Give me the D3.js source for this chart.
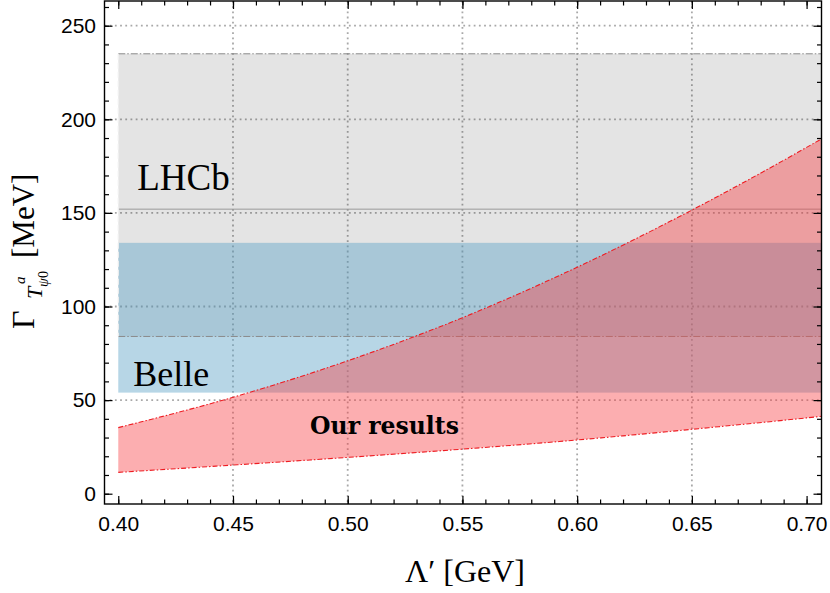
<!DOCTYPE html>
<html>
<head>
<meta charset="UTF-8">
<script src="https://d3js.org/d3.v7.min.js"></script>
<style>
  body { margin: 0; background: #fff; }
  svg { display: block; }
  .tick text { font-family: "Liberation Sans", Arial, sans-serif; font-size: 21px; fill: #000; }
  .tick line { stroke: #000; stroke-width: 1.2; }
  .serif { font-family: "Liberation Serif", "Times New Roman", serif; fill: #000; }
</style>
</head>
<body>
<svg width="830" height="593"></svg>
<script>
// red band ("Our results")
const lambda = [0.40, 0.45, 0.50, 0.55, 0.60, 0.65, 0.70, 0.71];
const lowerVals = [11.4, 15.3, 19.4, 23.8, 28.7, 34.4, 40.5, 41.8];
const upperVals = [35.3, 51.5, 71.0, 94.0, 121.0, 151.5, 185.0, 192.0];

// experimental bands: [low, central, high]
const lhcbBand = [84, 152, 235];
const belleBand = [54, 134];
const bandStart = 0.40;

const xMajor = [0.40, 0.45, 0.50, 0.55, 0.60, 0.65, 0.70];
const xGrid = [0.45, 0.50, 0.55, 0.60, 0.65];
const yMajor = [0, 50, 100, 150, 200, 250];
const yGrid = [50, 100, 150, 200, 250];

const svg = d3.select("svg");
const L = 104.5, R = 821.5, T = 1, B = 504;

const x = d3.scaleLinear().domain([0.394, 0.7065]).range([L, R]);
const y = d3.scaleLinear().domain([-5.5, 263.2]).range([B, T]);

svg.append("defs").append("clipPath").attr("id", "clip")
  .append("rect").attr("x", L).attr("y", T).attr("width", R - L).attr("height", B - T);

const plot = svg.append("g").attr("clip-path", "url(#clip)");

// grid
plot.selectAll(".gx").data(xGrid).join("line")
  .attr("x1", d => x(d)).attr("x2", d => x(d)).attr("y1", T).attr("y2", B)
  .attr("stroke", "#a8a8a8").attr("stroke-width", 1.8).attr("stroke-dasharray", "1.8,3.4");
plot.selectAll(".gy").data(yGrid).join("line")
  .attr("x1", L).attr("x2", R).attr("y1", d => y(d)).attr("y2", d => y(d))
  .attr("stroke", "#a8a8a8").attr("stroke-width", 1.8).attr("stroke-dasharray", "1.8,3.4");

// LHCb band
plot.append("rect")
  .attr("x", x(bandStart)).attr("width", R - x(bandStart))
  .attr("y", y(lhcbBand[2])).attr("height", y(lhcbBand[0]) - y(lhcbBand[2]))
  .attr("fill", "rgba(0,0,0,0.105)");

// Belle band
plot.append("rect")
  .attr("x", x(bandStart)).attr("width", R - x(bandStart))
  .attr("y", y(belleBand[1])).attr("height", y(belleBand[0]) - y(belleBand[1]))
  .attr("fill", "rgba(91,162,198,0.44)");

// band edges of LHCb
[lhcbBand[0], lhcbBand[2]].forEach(v => {
  plot.append("line")
    .attr("x1", x(bandStart)).attr("x2", R).attr("y1", y(v)).attr("y2", y(v))
    .attr("stroke", "#8a8a8a").attr("stroke-width", 1).attr("stroke-dasharray", "7,2,1.5,2");
});
plot.append("line")
  .attr("x1", x(bandStart)).attr("x2", R).attr("y1", y(lhcbBand[1])).attr("y2", y(lhcbBand[1]))
  .attr("stroke", "#999").attr("stroke-width", 1);
plot.append("line")
  .attr("x1", x(bandStart)).attr("x2", x(bandStart)).attr("y1", y(lhcbBand[2])).attr("y2", y(lhcbBand[0]))
  .attr("stroke", "#f0f0f0").attr("stroke-width", 1.2).attr("stroke-dasharray", "6,3");

// our results
const pts = lambda.map((l, i) => ({l, lo: lowerVals[i], hi: upperVals[i]}));
const area = d3.area().curve(d3.curveMonotoneX)
  .x(d => x(d.l)).y0(d => y(d.lo)).y1(d => y(d.hi));
plot.append("path").datum(pts).attr("d", area)
  .attr("fill", "rgba(248,62,66,0.42)");
["lo", "hi"].forEach(k => {
  plot.append("path").datum(pts)
    .attr("d", d3.line().curve(d3.curveMonotoneX).x(d => x(d.l)).y(d => y(d[k])))
    .attr("fill", "none").attr("stroke", "#ee1c22").attr("stroke-width", 1.1)
    .attr("stroke-dasharray", "5,2,1.5,2");
});

// labels inside
svg.append("text").attr("class", "serif").attr("x", x(bandStart) + 19).attr("y", y(162.2))
  .attr("font-size", 37).text("LHCb");
svg.append("text").attr("class", "serif").attr("x", x(bandStart) + 15).attr("y", y(57.5))
  .attr("font-size", 36).text("Belle");
svg.append("text").attr("x", x(0.4836)).attr("y", y(31.9))
  .attr("font-family", "'DejaVu Serif', serif").attr("font-weight", "bold")
  .attr("font-size", 23.5).attr("fill", "#000").text("Our results");

// axes: ticks inward on all four sides
const xMinor = d3.range(40, 71).map(d => d / 100);
const yMinor = d3.range(0, 261, 10);

function addAxis(axis, tx, ty) {
  const g = svg.append("g").attr("transform", `translate(${tx},${ty})`).call(axis);
  g.select(".domain").remove();
  return g;
}
addAxis(d3.axisBottom(x).tickValues(xMinor).tickSize(-4.5).tickFormat(""), 0, B);
addAxis(d3.axisBottom(x).tickValues(xMajor).tickSize(-8).tickPadding(12.3).tickFormat(d3.format(".2f")), 0, B);
addAxis(d3.axisTop(x).tickValues(xMinor).tickSize(-4.5).tickFormat(""), 0, T);
addAxis(d3.axisTop(x).tickValues(xMajor).tickSize(-8).tickFormat(""), 0, T);
addAxis(d3.axisLeft(y).tickValues(yMinor).tickSize(-4.5).tickFormat(""), L, 0);
addAxis(d3.axisLeft(y).tickValues(yMajor).tickSize(-8).tickPadding(8.5).tickFormat(d3.format("d")), L, 0);
addAxis(d3.axisRight(y).tickValues(yMinor).tickSize(-4.5).tickFormat(""), R, 0);
addAxis(d3.axisRight(y).tickValues(yMajor).tickSize(-8).tickFormat(""), R, 0);

svg.append("rect").attr("x", L).attr("y", T).attr("width", R - L).attr("height", B - T)
  .attr("fill", "none").attr("stroke", "#000").attr("stroke-width", 1.4);

// axis titles
svg.append("text").attr("class", "serif").attr("x", (L + R) / 2 + 2).attr("y", 582)
  .attr("text-anchor", "middle").attr("font-size", 32).text("Λ′ [GeV]");

const yt = svg.append("g").attr("class", "serif")
  .attr("transform", `translate(34,${(T + B) / 2 + 1.5}) rotate(-90)`);
yt.append("text").attr("x", -75).attr("y", 0).attr("font-size", 32).text("Γ");
yt.append("text").attr("x", -45).attr("y", 8).attr("font-size", 22).attr("font-style", "italic").text("T");
yt.append("text").attr("x", -30).attr("y", -9).attr("font-size", 15).attr("font-style", "italic").text("a");
yt.append("text").attr("x", -33).attr("y", 14).attr("font-size", 14).attr("font-style", "italic").text("ψ");
yt.append("text").attr("x", -24).attr("y", 14).attr("font-size", 14).text("0");
yt.append("text").attr("x", -4).attr("y", 0).attr("font-size", 31).text("[MeV]");
</script>
</body>
</html>
